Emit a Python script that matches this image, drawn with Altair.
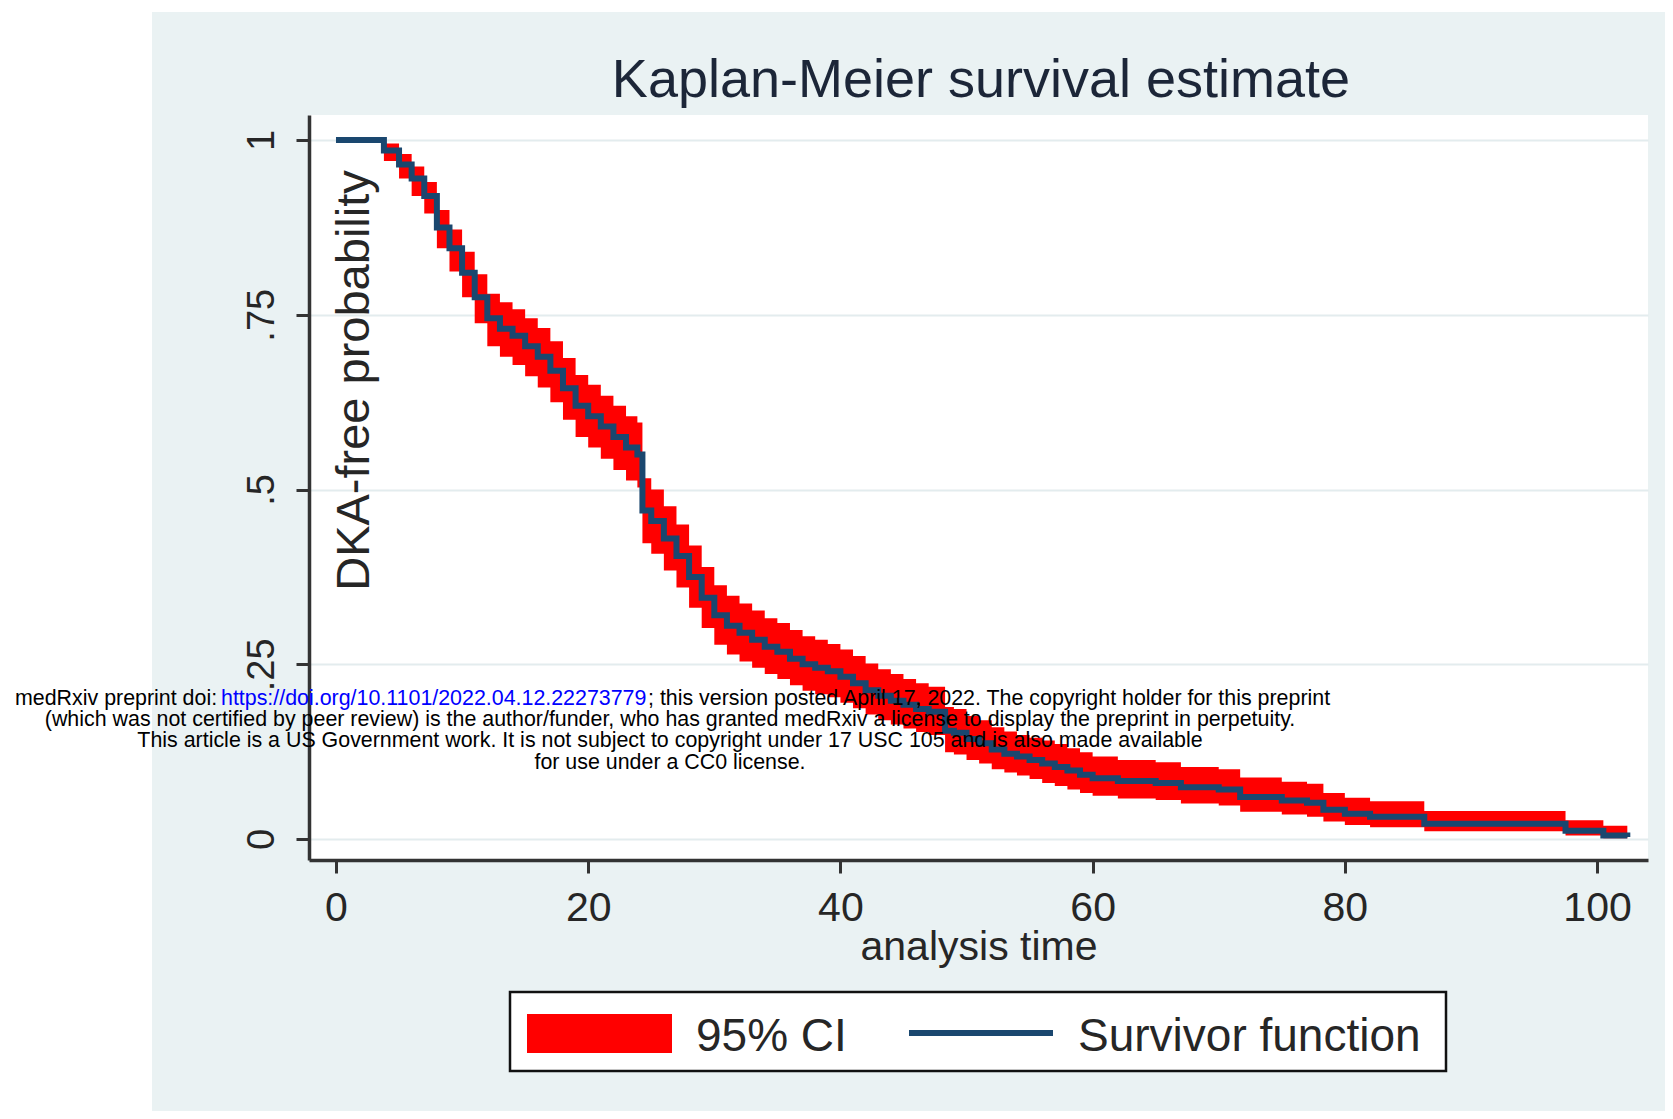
import altair as alt
import pandas as pd

# ---- data (Kaplan-Meier step curve) ----
times = [0, 3.8, 5, 6, 7, 8, 9, 10, 11, 12, 13, 14, 15, 16, 17, 18, 19, 20, 21, 22, 23,
         23.9, 24.3, 25, 26, 27, 28, 29, 30, 31, 32, 33, 34, 35, 36, 37, 38, 39, 40, 41,
         42, 43, 44, 45, 46, 47, 48.3, 49, 50, 51, 52, 53, 54, 55, 56, 57, 58, 59, 60,
         62, 65, 67, 70, 71.7, 75, 77, 78.3, 80, 82, 86.3, 97.5, 100.5, 102.4]
surv = [1.0, 0.985, 0.965, 0.945, 0.92, 0.875, 0.845, 0.81, 0.775, 0.745, 0.73, 0.72, 0.705,
        0.69, 0.67, 0.645, 0.62, 0.605, 0.59, 0.575, 0.56, 0.55, 0.47, 0.455, 0.43, 0.405,
        0.375, 0.345, 0.32, 0.305, 0.295, 0.285, 0.275, 0.268, 0.258, 0.25, 0.245, 0.24,
        0.232, 0.223, 0.213, 0.205, 0.198, 0.192, 0.186, 0.182, 0.155, 0.152, 0.143, 0.137,
        0.128, 0.122, 0.118, 0.113, 0.108, 0.103, 0.098, 0.092, 0.087, 0.083, 0.08, 0.074,
        0.071, 0.06, 0.055, 0.052, 0.042, 0.036, 0.032, 0.022, 0.012, 0.005, 0.003]
ci_low = [1.0, 0.97, 0.945, 0.92, 0.895, 0.845, 0.812, 0.775, 0.738, 0.705, 0.69, 0.678, 0.662,
          0.646, 0.625, 0.6, 0.575, 0.56, 0.544, 0.528, 0.513, 0.503, 0.423, 0.408, 0.384,
          0.36, 0.331, 0.302, 0.278, 0.264, 0.254, 0.245, 0.236, 0.229, 0.22, 0.212, 0.207,
          0.203, 0.195, 0.187, 0.178, 0.17, 0.164, 0.158, 0.153, 0.149, 0.124, 0.121, 0.113,
          0.108, 0.1, 0.095, 0.091, 0.086, 0.08, 0.076, 0.071, 0.066, 0.062, 0.058, 0.056,
          0.051, 0.048, 0.039, 0.035, 0.032, 0.025, 0.02, 0.017, 0.011, 0.005, 0.001, 0.0]
ci_high = [1.0, 0.995, 0.98, 0.962, 0.94, 0.9, 0.872, 0.84, 0.808, 0.78, 0.768, 0.758, 0.745,
           0.731, 0.712, 0.688, 0.664, 0.65, 0.634, 0.62, 0.605, 0.596, 0.516, 0.5, 0.476,
           0.45, 0.42, 0.389, 0.363, 0.348, 0.337, 0.327, 0.316, 0.309, 0.299, 0.29, 0.285,
           0.279, 0.271, 0.262, 0.251, 0.243, 0.236, 0.229, 0.223, 0.218, 0.189, 0.186, 0.176,
           0.17, 0.16, 0.154, 0.149, 0.145, 0.141, 0.136, 0.13, 0.124, 0.118, 0.113, 0.11,
           0.103, 0.1, 0.088, 0.082, 0.079, 0.066, 0.059, 0.054, 0.04, 0.027, 0.019, 0.016]

x_ticks = [0, 20, 40, 60, 80, 100]
y_ticks = [0, 0.25, 0.5, 0.75, 1]
y_tick_labels = ["0", ".25", ".5", ".75", "1"]

title_text = "Kaplan-Meier survival estimate"
x_title = "analysis time"
y_title = "DKA-free probability"
legend_labels = ["95% CI", "Survivor function"]
wm_prefix = "medRxiv preprint doi: "
wm_url = "https://doi.org/10.1101/2022.04.12.22273779"
wm_suffix = "; this version posted April 17, 2022. The copyright holder for this preprint"
wm_lines = [
    "(which was not certified by peer review) is the author/funder, who has granted medRxiv a license to display the preprint in perpetuity.",
    "This article is a US Government work. It is not subject to copyright under 17 USC 105 and is also made available",
    "for use under a CC0 license.",
]

FONT = "Liberation Sans, Arial, Helvetica, sans-serif"
RED = "#ff0000"
NAVY = "#1a476f"
BG = "#eaf2f3"
TXT = "#262626"

W, H = 1339, 745

df = pd.DataFrame({"time": times, "surv": surv, "lo": ci_low, "hi": ci_high})
one = pd.DataFrame({"k": [0]})

label_expr = " : ".join(
    f"datum.value == {v} ? '{l}'" for v, l in zip(y_ticks, y_tick_labels)
) + " : ''"

x_scale = alt.Scale(domain=[-2.14, 104.04], nice=False, zero=False)
y_scale = alt.Scale(domain=[-0.03, 1.0358], nice=False, zero=False)

x_axis = alt.Axis(values=x_ticks, title=x_title, grid=False, labelFont=FONT, labelFontSize=41,
                  labelColor=TXT, labelPadding=15, tickSize=13, tickWidth=3, tickColor="#333",
                  domainColor="#333", domainWidth=3.5, titleFont=FONT, titleFontSize=41,
                  titleFontWeight="normal", titleColor=TXT, titleY=99, titleBaseline="alphabetic",
                  format="d")
y_axis = alt.Axis(values=y_ticks, title=y_title, labelExpr=label_expr, grid=True,
                  gridColor="#e3ecee", gridWidth=2, labelFont=FONT, labelFontSize=38,
                  labelColor=TXT, labelAngle=270, labelAlign="center",
                  labelBaseline="alphabetic", labelPadding=23, tickSize=13, tickWidth=3,
                  tickColor="#333", domainColor="#333", domainWidth=3.5, titleFont=FONT,
                  titleFontSize=47, titleFontWeight="normal", titleColor=TXT, titleAngle=270,
                  titleAlign="center", titleBaseline="alphabetic", titleX=59, titleY=265)

# white page strips outside the Stata graph region
strip_left = alt.Chart(one).mark_rect(color="white").encode(
    x=alt.value(-301), x2=alt.value(-157), y=alt.value(-107), y2=alt.value(1004))
strip_top = alt.Chart(one).mark_rect(color="white").encode(
    x=alt.value(-301), x2=alt.value(1356), y=alt.value(-107), y2=alt.value(-103))

band = alt.Chart(df).mark_area(interpolate="step-after", color=RED, opacity=1).encode(
    x=alt.X("time:Q", scale=x_scale, axis=x_axis),
    y=alt.Y("lo:Q", scale=y_scale, axis=y_axis),
    y2="hi:Q",
)
line = alt.Chart(df).mark_line(interpolate="step-after", color=NAVY, strokeWidth=6).encode(
    x=alt.X("time:Q", scale=x_scale, axis=x_axis),
    y=alt.Y("surv:Q", scale=y_scale, axis=y_axis),
)

title = alt.Chart(pd.DataFrame({"t": [title_text]})).mark_text(
    font=FONT, fontSize=54, color="#1c2638", align="center", baseline="alphabetic"
).encode(text="t:N", x=alt.value(672), y=alt.value(-18))

# legend
leg_box = alt.Chart(one).mark_rect(fill="white", stroke="#111", strokeWidth=2.5).encode(
    x=alt.value(201), x2=alt.value(1137), y=alt.value(877), y2=alt.value(956))
leg_red = alt.Chart(one).mark_rect(color=RED).encode(
    x=alt.value(218), x2=alt.value(363), y=alt.value(899), y2=alt.value(938))
leg_line = alt.Chart(one).mark_rule(color=NAVY, strokeWidth=6).encode(
    x=alt.value(600), x2=alt.value(744), y=alt.value(918))
leg_t1 = alt.Chart(pd.DataFrame({"t": [legend_labels[0]]})).mark_text(
    font=FONT, fontSize=46, color=TXT, align="left", baseline="alphabetic"
).encode(text="t:N", x=alt.value(387), y=alt.value(936))
leg_t2 = alt.Chart(pd.DataFrame({"t": [legend_labels[1]]})).mark_text(
    font=FONT, fontSize=46, color=TXT, align="left", baseline="alphabetic"
).encode(text="t:N", x=alt.value(769), y=alt.value(936))

# medRxiv watermark
wm_size = 21.4
wm1a = alt.Chart(pd.DataFrame({"t": [wm_prefix]})).mark_text(
    font=FONT, fontSize=wm_size, color="black", align="left", baseline="alphabetic"
).encode(text="t:N", x=alt.value(-294), y=alt.value(590))
wm1b = alt.Chart(pd.DataFrame({"t": [wm_url]})).mark_text(
    font=FONT, fontSize=wm_size, color="#0000ff", align="left", baseline="alphabetic"
).encode(text="t:N", x=alt.value(-88), y=alt.value(590))
wm1c = alt.Chart(pd.DataFrame({"t": [wm_suffix]})).mark_text(
    font=FONT, fontSize=wm_size, color="black", align="left", baseline="alphabetic"
).encode(text="t:N", x=alt.value(339), y=alt.value(590))
wm_rest = alt.Chart(pd.DataFrame({"t": wm_lines, "yy": [611, 632, 654]})).mark_text(
    font=FONT, fontSize=wm_size, color="black", align="center", baseline="alphabetic"
).encode(text="t:N", x=alt.value(361), y=alt.Y("yy:Q", scale=None))

chart = alt.layer(
    strip_left, strip_top, band, line, title, leg_box, leg_red, leg_line, leg_t1, leg_t2,
    wm1a, wm1b, wm1c, wm_rest,
).properties(
    width=W, height=H,
    autosize=alt.AutoSizeParams(type="none"),
    padding={"left": 301, "top": 107, "right": 17, "bottom": 251},
    background=BG,
).configure_view(fill="white", stroke=None)

chart.save("out.html", embed_options={"renderer": "svg", "actions": False})
